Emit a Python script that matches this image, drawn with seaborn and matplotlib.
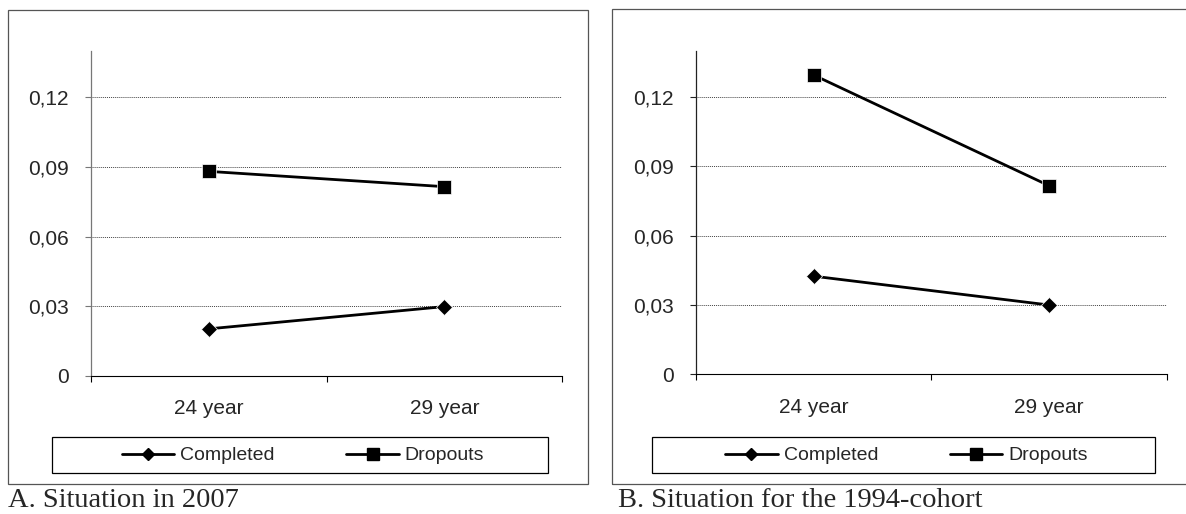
import matplotlib
matplotlib.use("Agg")
import matplotlib.pyplot as plt
from matplotlib.lines import Line2D
from matplotlib.patches import Rectangle
import seaborn as sns
import pandas as pd

# data
ages = ["24 year", "29 year"]
completed_2007 = [0.0202, 0.0298]
dropouts_2007 = [0.0881, 0.0815]
completed_1994 = [0.0424, 0.0299]
dropouts_1994 = [0.1296, 0.0816]
ytick_vals = [0, 0.03, 0.06, 0.09, 0.12]
ytick_labels = ["0", "0,03", "0,06", "0,09", "0,12"]
captions = ["A. Situation in 2007", "B. Situation for the 1994-cohort"]

sns.set_style("white")
plt.rcParams["font.family"] = ["Liberation Sans", "DejaVu Sans"]

W, H = 1186, 514
fig = plt.figure(figsize=(W / 100, H / 100), dpi=100)


def fx(px):
    return px / W


def fy(py):
    return 1 - py / H


def draw_panel(rect, completed, dropouts, spine_col):
    ax = fig.add_axes(rect)
    df = pd.DataFrame({"age": ages, "Completed": completed, "Dropouts": dropouts})
    sns.lineplot(data=df, x="age", y="Completed", ax=ax, color="black", lw=2,
                 marker="D", markersize=8, markeredgewidth=0.5, sort=False)
    sns.lineplot(data=df, x="age", y="Dropouts", ax=ax, color="black", lw=2,
                 marker="s", markersize=10, markeredgewidth=0.5, sort=False)
    ax.set_xlim(-0.5, 1.5)
    ax.set_ylim(0, 0.14)
    ax.set_xlabel("")
    ax.set_ylabel("")
    ax.set_yticks(ytick_vals, ytick_labels)
    ax.set_xticks([0, 1], ages)
    ax.set_xticks([-0.5, 0.5, 1.5], minor=True)
    ax.tick_params(axis="x", which="major", length=0, pad=17, labelsize=15)
    ax.tick_params(axis="x", which="minor", length=4.5, width=0.8, direction="out",
                   bottom=True, color="black")
    ax.tick_params(axis="y", length=4.5, width=0.8, direction="out", left=True,
                   pad=11.5, labelsize=15, color=spine_col)
    for s in ["top", "right"]:
        ax.spines[s].set_visible(False)
    ax.spines["left"].set_color(spine_col)
    ax.spines["left"].set_linewidth(0.9)
    ax.spines["bottom"].set_color("black")
    ax.spines["bottom"].set_linewidth(0.8)
    ax.yaxis.grid(True, linestyle=(0, (1, 1)), color="#444444", lw=0.7)
    ax.xaxis.grid(False)
    ax.set_axisbelow(True)
    return ax


ax1 = draw_panel([fx(91), fy(375.7), fx(562.3 - 91), (375.7 - 51) / H],
                 completed_2007, dropouts_2007, "#777777")
ax2 = draw_panel([fx(695.7), fy(374), fx(1167 - 695.7), (374 - 51) / H],
                 completed_1994, dropouts_1994, "#222222")

# outer frames
fig.patches.append(Rectangle((fx(8), fy(484)), fx(588 - 8), (484 - 10) / H,
                             transform=fig.transFigure, fill=False,
                             edgecolor="#555555", lw=0.9))
fig.patches.append(Rectangle((fx(612), fy(484)), fx(1195 - 612), (484 - 9) / H,
                             transform=fig.transFigure, fill=False,
                             edgecolor="#555555", lw=0.9))

# legend boxes
handles = [Line2D([], [], color="black", lw=2, marker="D", markersize=6.5),
           Line2D([], [], color="black", lw=2, marker="s", markersize=8)]
for ax, (l, r) in [(ax1, (52, 548)), (ax2, (652, 1155))]:
    fig.patches.append(Rectangle((fx(l), fy(473)), fx(r - l), 36 / H,
                                 transform=fig.transFigure, fill=False,
                                 edgecolor="black", lw=0.9))
    ax.legend(handles, ["Completed", "Dropouts"], loc="center", ncol=2,
              bbox_to_anchor=(fx((l + r) / 2 + 3), fy(455.5)),
              bbox_transform=fig.transFigure, frameon=False, fontsize=14,
              handlelength=2.7, handletextpad=0.3, columnspacing=3.7,
              borderpad=0)

# captions below the panels
fig.text(fx(8), fy(507), captions[0], family=["Liberation Serif", "DejaVu Serif"],
         fontsize=20.5, va="baseline", ha="left")
fig.text(fx(617.5), fy(507), captions[1], family=["Liberation Serif", "DejaVu Serif"],
         fontsize=20.5, va="baseline", ha="left")

fig.savefig("out.png", dpi=100)
